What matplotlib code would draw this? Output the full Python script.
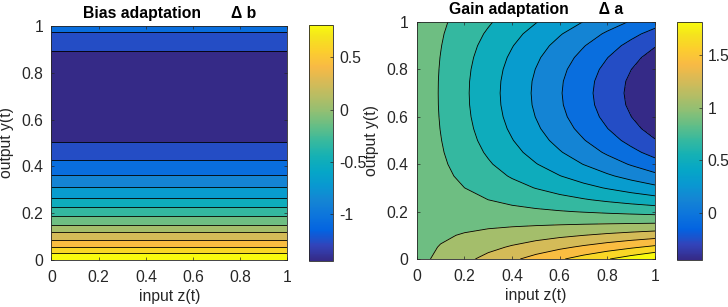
import numpy as np
import matplotlib
matplotlib.use('Agg')
import matplotlib.pyplot as plt
from matplotlib.colors import LinearSegmentedColormap, Normalize
from matplotlib import cm
from matplotlib.ticker import FormatStrFormatter


# grid of the two panels
z_vals = [0, 0.1, 0.2, 0.3, 0.4, 0.5, 0.6, 0.7, 0.8, 0.9, 1.0]
y_vals = [0, 0.05, 0.1, 0.15, 0.2, 0.25, 0.3, 0.35, 0.4, 0.45, 0.5,
          0.55, 0.6, 0.65, 0.7, 0.75, 0.8, 0.85, 0.9, 0.95, 1.0]

# bias change along y (same for every z)
bias_db = [1.0, 0.6625, 0.35, 0.0625, -0.2, -0.4375, -0.65, -0.8375, -1.0,
           -1.1375, -1.25, -1.3375, -1.4, -1.4375, -1.45, -1.4375, -1.4,
           -1.3375, -1.25, -1.1375, -1.0]

# gain change, one row per y value, columns follow z_vals
gain_da = [
    [1.0, 1.1, 1.2, 1.3, 1.4, 1.5, 1.6, 1.7, 1.8, 1.9, 2.0],
    [1.0, 1.066, 1.133, 1.199, 1.265, 1.331, 1.398, 1.464, 1.53, 1.596, 1.6625],
    [1.0, 1.035, 1.07, 1.105, 1.14, 1.175, 1.21, 1.245, 1.28, 1.315, 1.35],
    [1.0, 1.006, 1.0125, 1.019, 1.025, 1.031, 1.0375, 1.044, 1.05, 1.056, 1.0625],
    [1.0, 0.98, 0.96, 0.94, 0.92, 0.9, 0.88, 0.86, 0.84, 0.82, 0.8],
    [1.0, 0.956, 0.9125, 0.869, 0.825, 0.781, 0.7375, 0.694, 0.65, 0.606, 0.5625],
    [1.0, 0.935, 0.87, 0.805, 0.74, 0.675, 0.61, 0.545, 0.48, 0.415, 0.35],
    [1.0, 0.916, 0.8325, 0.749, 0.665, 0.581, 0.4975, 0.414, 0.33, 0.246, 0.1625],
    [1.0, 0.9, 0.8, 0.7, 0.6, 0.5, 0.4, 0.3, 0.2, 0.1, 0.0],
    [1.0, 0.886, 0.7725, 0.659, 0.545, 0.431, 0.3175, 0.204, 0.09, -0.024, -0.1375],
    [1.0, 0.875, 0.75, 0.625, 0.5, 0.375, 0.25, 0.125, 0.0, -0.125, -0.25],
    [1.0, 0.866, 0.7325, 0.599, 0.465, 0.331, 0.1975, 0.064, -0.07, -0.204, -0.3375],
    [1.0, 0.86, 0.72, 0.58, 0.44, 0.3, 0.16, 0.02, -0.12, -0.26, -0.4],
    [1.0, 0.856, 0.7125, 0.569, 0.425, 0.281, 0.1375, -0.006, -0.15, -0.294, -0.4375],
    [1.0, 0.855, 0.71, 0.565, 0.42, 0.275, 0.13, -0.015, -0.16, -0.305, -0.45],
    [1.0, 0.856, 0.7125, 0.569, 0.425, 0.281, 0.1375, -0.006, -0.15, -0.294, -0.4375],
    [1.0, 0.86, 0.72, 0.58, 0.44, 0.3, 0.16, 0.02, -0.12, -0.26, -0.4],
    [1.0, 0.866, 0.7325, 0.599, 0.465, 0.331, 0.1975, 0.064, -0.07, -0.204, -0.3375],
    [1.0, 0.875, 0.75, 0.625, 0.5, 0.375, 0.25, 0.125, 0.0, -0.125, -0.25],
    [1.0, 0.886, 0.7725, 0.659, 0.545, 0.431, 0.3175, 0.204, 0.09, -0.024, -0.1375],
    [1.0, 0.9, 0.8, 0.7, 0.6, 0.5, 0.4, 0.3, 0.2, 0.1, 0.0],
]

titles = ['Bias adaptation       \u0394 b', 'Gain adaptation       \u0394 a']
cbar_ticks = [[-1, -0.5, 0, 0.5], [0, 0.5, 1, 1.5]]
axis_ticks = [0, 0.2, 0.4, 0.6, 0.8, 1]

# MATLAB parula, every 4th entry of the 64 colour table
parula_rgb = [
    (0.2081, 0.1663, 0.5292), (0.1959, 0.2645, 0.7279), (0.0117, 0.3875, 0.8820),
    (0.0498, 0.4586, 0.8641), (0.0793, 0.5200, 0.8312), (0.0343, 0.5966, 0.8199),
    (0.0228, 0.6535, 0.7768), (0.0843, 0.6928, 0.7062), (0.2178, 0.7250, 0.6193),
    (0.3953, 0.7459, 0.5244), (0.5709, 0.7485, 0.4494), (0.7184, 0.7411, 0.3905),
    (0.8507, 0.7299, 0.3360), (0.9739, 0.7314, 0.2666), (0.9880, 0.8066, 0.1794),
    (0.9589, 0.8949, 0.1132), (0.9763, 0.9831, 0.0538),
]
pos = [i * 4 / 63 for i in range(16)] + [1.0]
parula = LinearSegmentedColormap.from_list('parula', list(zip(pos, parula_rgb)))

plt.rcParams['font.family'] = ['Liberation Sans', 'DejaVu Sans']
plt.rcParams['font.size'] = 11.3
plt.rcParams['axes.unicode_minus'] = False
dark = '#262626'

fig = plt.figure(figsize=(7.28, 3.07), dpi=100)
ax_pos = [[0.0707, 0.153, 0.3242, 0.762], [0.5724, 0.1564, 0.3273, 0.772]]
cb_pos = [[0.4249, 0.150, 0.033, 0.769], [0.9304, 0.153, 0.0335, 0.774]]

fields = [np.tile(np.array(bias_db)[:, None], (1, len(z_vals))), np.array(gain_da)]

for k in range(2):
    ax = fig.add_axes(ax_pos[k])
    cax = fig.add_axes(cb_pos[k])
    field = fields[k]
    lo, hi = field.min(), field.max()
    levels = np.linspace(lo, hi, 14)[1:-1]
    norm = Normalize(lo, levels[-1])
    fill_vals = np.concatenate([[lo], levels])
    colors = [parula(norm(v)) for v in fill_vals]
    bounds = np.concatenate([[lo - 1e-6], levels, [hi + 1e-6]])
    ax.contourf(z_vals, y_vals, field, levels=bounds, colors=colors)
    ax.contour(z_vals, y_vals, field, levels=levels, colors='k',
               linewidths=0.6, linestyles='solid')

    ax.set_xlim(0, 1)
    ax.set_ylim(0, 1)
    ax.set_xticks(axis_ticks)
    ax.set_yticks(axis_ticks)
    ax.xaxis.set_major_formatter(FormatStrFormatter('%g'))
    ax.yaxis.set_major_formatter(FormatStrFormatter('%g'))
    ax.tick_params(direction='in', length=2.5, width=0.5, colors=dark,
                   top=True, right=True, labelsize=11.3)
    ax.tick_params(axis='y', pad=6)
    ax.tick_params(axis='x', pad=7)
    for s in ax.spines.values():
        s.set_color(dark)
        s.set_linewidth(0.6)
    ax.set_xlabel('input z(t)', color=dark, labelpad=3)
    ax.set_ylabel('output y(t)', color=dark, labelpad=5)
    ax.set_title(titles[k], fontweight='bold', fontsize=11.3, color='black', pad=6)

    cb = fig.colorbar(cm.ScalarMappable(norm=norm, cmap=parula), cax=cax)
    cb.set_ticks(cbar_ticks[k])
    cb.ax.yaxis.set_major_formatter(FormatStrFormatter('%g'))
    cb.ax.tick_params(direction='in', length=2.5, width=0.5, colors=dark,
                      labelsize=11.3, pad=4)
    cb.outline.set_edgecolor(dark)
    cb.outline.set_linewidth(0.6)

fig.savefig('out.png', dpi=100)
